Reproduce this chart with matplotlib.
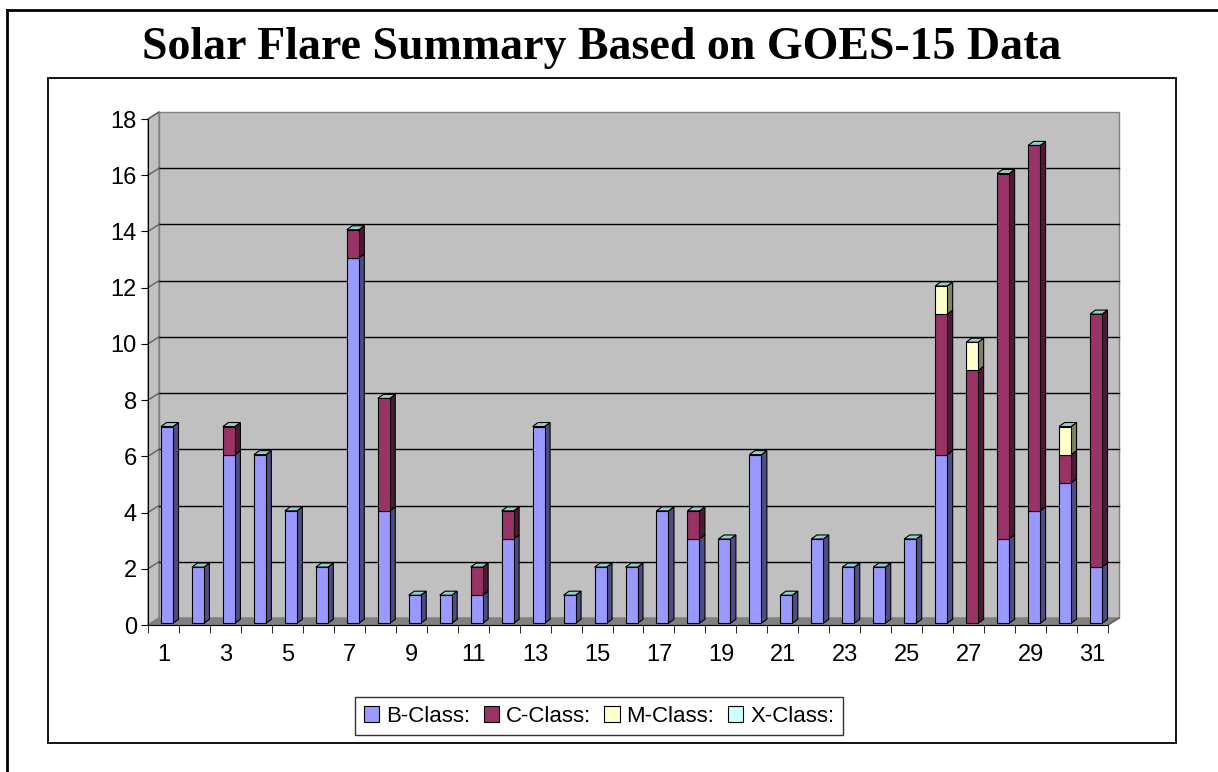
import matplotlib.pyplot as plt
from matplotlib.patches import Polygon, Rectangle
from matplotlib.lines import Line2D

days = list(range(1, 32))
b_class = [7, 2, 6, 6, 4, 2, 13, 4, 1, 1, 1, 3, 7, 1, 2, 2, 4, 3, 3, 6, 1, 3, 2, 2, 3, 6, 0, 3, 4, 5, 2]
c_class = [0, 0, 1, 0, 0, 0, 1, 4, 0, 0, 1, 1, 0, 0, 0, 0, 0, 1, 0, 0, 0, 0, 0, 0, 0, 5, 9, 13, 13, 1, 9]
m_class = [0, 0, 0, 0, 0, 0, 0, 0, 0, 0, 0, 0, 0, 0, 0, 0, 0, 0, 0, 0, 0, 0, 0, 0, 0, 1, 1, 0, 0, 1, 0]
x_class = [0] * 31
labels = ['B-Class:', 'C-Class:', 'M-Class:', 'X-Class:']
y_ticks = list(range(0, 19, 2))

face_cols = ['#9999ff', '#993366', '#ffffcc', '#ccffff']
side_cols = ['#4d4d80', '#4d1a33', '#808066', '#668080']
top_col = '#99cccc'

W, H = 1218, 772
fig = plt.figure(figsize=(W / 100, H / 100), dpi=100)
plt.rcParams['font.family'] = 'Liberation Sans'

# front plane of the 3d plot
ax = fig.add_axes([148 / W, (H - 625) / H, 960 / W, 506 / H])
ax.set_xlim(0.5, 31.5)
ax.set_ylim(0, 18)
ax.patch.set_visible(False)

# pixel -> data
PX = 31 / 960
PY = 18 / 506
DX, DY = 11 * PX, 7 * PY          # wall depth
FX, FY = 3.5 * PX, 1.7 * PY       # bar front offset
BX, BY = 5.5 * PX, 4 * PY         # bar depth
bw = 12 * PX

x0, x1 = 0.5, 31.5
# back wall
ax.add_patch(Rectangle((x0 + DX, DY), x1 - x0, 18, facecolor='#c0c0c0', edgecolor='#808080',
                       lw=1, clip_on=False, zorder=0))
# left wall
ax.add_patch(Polygon([(x0, 0), (x0, 18), (x0 + DX, 18 + DY), (x0 + DX, DY)], closed=True,
                     facecolor='#c0c0c0', edgecolor='#808080', lw=1, clip_on=False, zorder=0))
# floor
ax.add_patch(Polygon([(x0, 0), (x1, 0), (x1 + DX, DY), (x0 + DX, DY)], closed=True,
                     facecolor='#808080', edgecolor='#808080', lw=1, clip_on=False, zorder=0))
# gridlines
for yv in y_ticks[1:-1]:
    ax.plot([x0 + DX, x1 + DX], [yv + DY, yv + DY], color='black', lw=1, clip_on=False, zorder=1)
    ax.plot([x0, x0 + DX], [yv, yv + DY], color='#606060', lw=1, clip_on=False, zorder=1)
ax.plot([x0, x0 + DX], [18, 18 + DY], color='#606060', lw=1, clip_on=False, zorder=1)


def draw_box(xc, y0, y1, face, side, top=None):
    left = xc - bw / 2 + FX
    right = left + bw
    b0, b1 = y0 + FY, y1 + FY
    ax.add_patch(Polygon([(right, b0), (right + BX, b0 + BY), (right + BX, b1 + BY), (right, b1)],
                         closed=True, facecolor=side, edgecolor='black', lw=0.8, clip_on=False, zorder=3))
    ax.add_patch(Rectangle((left, b0), bw, y1 - y0, facecolor=face, edgecolor='black',
                           lw=0.8, clip_on=False, zorder=3))
    if top is not None:
        ax.add_patch(Polygon([(left, b1), (right, b1), (right + BX, b1 + BY), (left + BX, b1 + BY)],
                             closed=True, facecolor=top, edgecolor='black', lw=0.8, clip_on=False, zorder=3))


series = [b_class, c_class, m_class, x_class]
for i, d in enumerate(days):
    base = 0
    vals = [s[i] for s in series]
    last = max(k for k in range(4) if vals[k] > 0) if any(vals) else -1
    for k, v in enumerate(vals):
        if v > 0:
            draw_box(d, base, base + v, face_cols[k], side_cols[k], top_col if k == last else None)
            base += v

# axes lines and ticks
for s in ['top', 'right']:
    ax.spines[s].set_visible(False)
ax.spines['left'].set_zorder(4)
ax.spines['bottom'].set_zorder(4)
ax.plot([x1, x1 + DX], [0, DY], color='#606060', lw=1, clip_on=False, zorder=4)
ax.set_yticks(y_ticks)
ax.set_xticks(days[::2])
ax.set_xticks([d + 0.5 for d in days[:-1]] + [0.5, 31.5], minor=True)
ax.tick_params(axis='y', direction='out', length=5, pad=3, labelsize=17, color='black')
ax.tick_params(axis='x', which='major', length=0, pad=14, labelsize=17)
ax.tick_params(axis='x', which='minor', direction='out', length=6)

# title
fig.text(602 / W, 1 - 59 / H, 'Solar Flare Summary Based on GOES-15 Data', ha='center', va='baseline',
         family='Liberation Serif', weight='bold', fontsize=33)

# legend
handles = [Rectangle((0, 0), 1, 1, facecolor=c, edgecolor='black', lw=0.8) for c in face_cols]
leg = fig.legend(handles, labels, loc='center', bbox_to_anchor=(599 / W, 1 - 716 / H), ncol=4,
                 fontsize=16, frameon=True, fancybox=False, edgecolor='black', handlelength=0.7,
                 handleheight=0.7, handletextpad=0.3, columnspacing=0.6, borderpad=0.4)
leg.get_frame().set_linewidth(1)

# borders
fig.add_artist(Rectangle((48 / W, 1 - 743 / H), (1176 - 48) / W, (743 - 78) / H, transform=fig.transFigure,
                         facecolor='none', edgecolor='black', lw=1.3))
fig.add_artist(Line2D([7 / W, 7 / W], [0, 1 - 10 / H], transform=fig.transFigure, color='black', lw=2))
fig.add_artist(Line2D([7 / W, 1], [1 - 10 / H, 1 - 10 / H], transform=fig.transFigure, color='black', lw=2))

fig.savefig('out.png', dpi=100)
